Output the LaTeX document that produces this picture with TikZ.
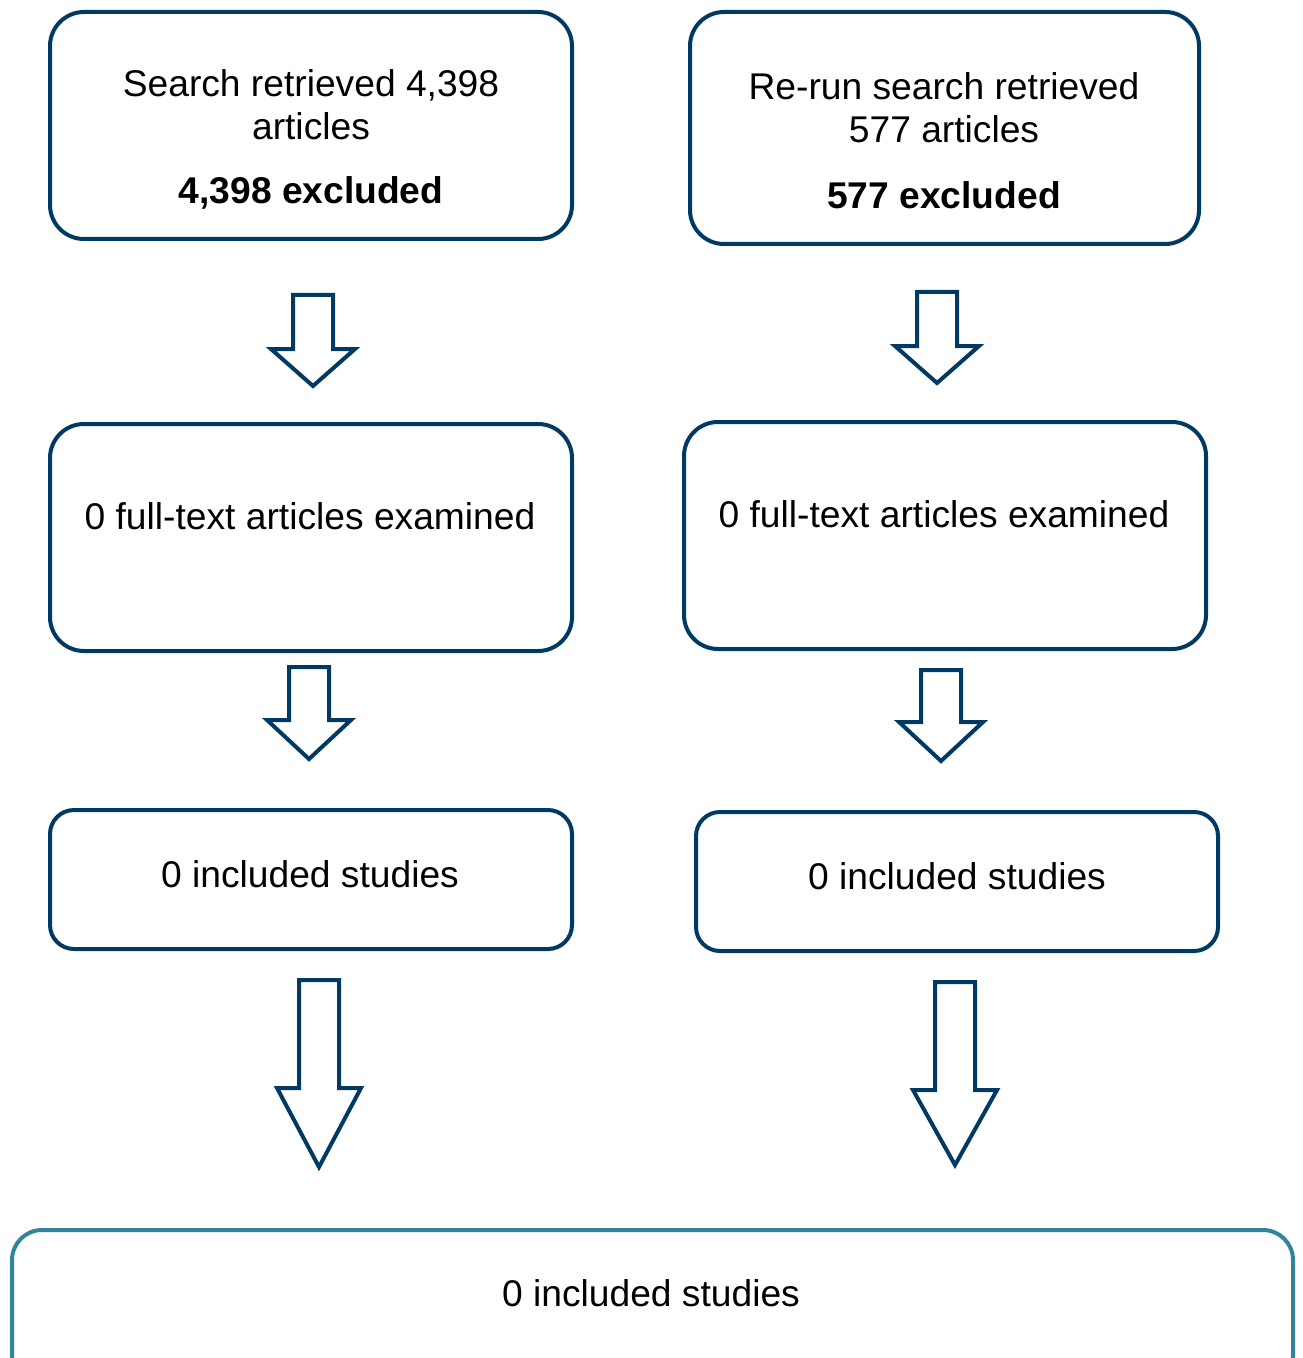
\documentclass[tikz,border=0pt]{standalone}
\usepackage{fontspec}
\setmainfont{Liberation Sans}
\usepackage{tikz}
\usetikzlibrary{positioning}
\definecolor{flownavy}{HTML}{003A64}
\definecolor{flowteal}{HTML}{31849B}

% hollow block arrow: x, top y, head y, tip y
\newcommand{\flowarrow}[4]{%
  \draw[flow] (#1-20,#2) -- (#1+20,#2) -- (#1+20,#3) -- (#1+42,#3) -- (#1,#4)
    -- (#1-42,#3) -- (#1-20,#3) -- cycle;}

\begin{document}
\begin{tikzpicture}[
  x=0.5pt, y=-0.5pt,
  font=\fontsize{18.6}{21.5}\selectfont,
  box/.style={draw=flownavy, line width=2pt, rounded corners=17pt, minimum width=261pt, minimum height=113.5pt, inner sep=0pt},
  smallbox/.style={box, rounded corners=12pt, minimum height=69.5pt},
  endbox/.style={draw=flowteal, line width=2pt, rounded corners=15pt, minimum width=640.5pt, minimum height=77.5pt, inner sep=0pt},
  flow/.style={draw=flownavy, line width=2pt},
  txt/.style={align=center, inner sep=0pt},
  hit/.style={font=\fontsize{18.6}{21.5}\selectfont\bfseries, inner sep=0pt},
]
\useasboundingbox (0,0) rectangle (1302,1358);
% left column
\node[box] (search) at (311,125.5) {};
\node[txt] (searchtxt) at (311,104.5) {Search retrieved 4,398\\articles};
\node[hit] (searchout) at (311,193) {4,398 excluded};
\node[box] (fullA) at (311,537.5) {};
\node[txt] (fullAtxt) at (310,516) {0 full-text articles examined};
\node[smallbox] (inclA) at (311,879.5) {};
\node[txt] (inclAtxt) at (310,874) {0 included studies};
% right column
\node[box, minimum width=254.5pt, minimum height=116pt] (rerun) at (944.5,128) {};
\node[txt] (reruntxt) at (944,108) {Re-run search retrieved\\577 articles};
\node[hit] (rerunout) at (944,195) {577 excluded};
\node[box] (fullB) at (945,535.5) {};
\node[txt] (fullBtxt) at (944,514) {0 full-text articles examined};
\node[smallbox] (inclB) at (957,881.5) {};
\node[txt] (inclBtxt) at (957,876) {0 included studies};
% pooled result
\node[endbox] (total) at (652.5,1307.5) {};
\node[txt] (totaltxt) at (651,1293) {0 included studies};
% arrows
\flowarrow{313}{295}{349}{386}
\flowarrow{937}{292}{346}{383}
\flowarrow{309}{667}{720}{759}
\flowarrow{941}{670}{722}{761}
\flowarrow{319}{980}{1088}{1167}
\flowarrow{955}{982}{1090}{1165}
\end{tikzpicture}
\end{document}
